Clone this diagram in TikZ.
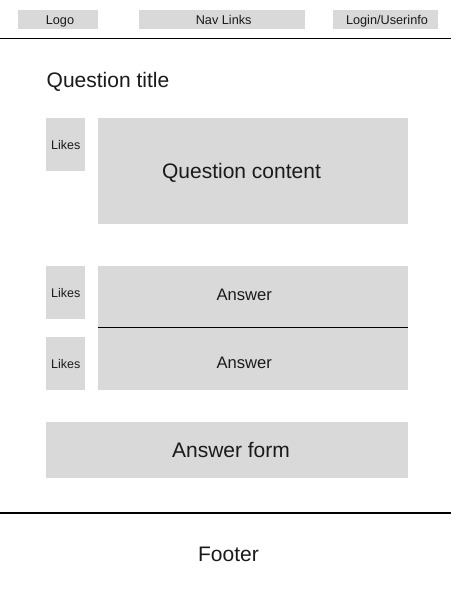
\documentclass[tikz,border=0pt]{standalone}
\usepackage{fontspec}
\setmainfont{Liberation Sans}
\definecolor{boxgray}{HTML}{D9D9D9}
\definecolor{ink}{HTML}{1A1A1A}
\begin{document}
\begin{tikzpicture}[x=1pt,y=-1pt,
  block/.style={fill=boxgray,draw=none,inner sep=0pt},
  rule/.style={draw=black,line width=1.1pt},
  label/.style={text=ink,inner sep=0pt,anchor=base},
  small/.style={font=\fontsize{12.7}{15}\selectfont},
  likes/.style={font=\fontsize{12.5}{15}\selectfont},
  medium/.style={font=\fontsize{16.6}{20}\selectfont},
  large/.style={font=\fontsize{21}{25}\selectfont}]
\useasboundingbox[fill=white] (0,0) rectangle (451,600);

% header bar
\node[block,minimum width=80pt,minimum height=19pt] (logo) at (58,19.5) {};
\node[block,minimum width=166pt,minimum height=19pt] (nav) at (222,19.5) {};
\node[block,minimum width=105pt,minimum height=19pt] (login) at (385.5,19.5) {};
\node[label,small] (logot) at (60,24.3) {Logo};
\node[label,small] (navt) at (223.7,24.3) {Nav Links};
\node[label,small] (logint) at (387,24.3) {Login/Userinfo};
\coordinate (hl) at (0,38.5);
\coordinate (hr) at (451,38.5);
\draw[rule] (hl) -- (hr);

% question
\node[label,large,anchor=base west] (qtitle) at (46.5,87) {Question title};
\node[block,minimum width=39pt,minimum height=53pt] (qlikes) at (65.5,144.5) {};
\node[label,likes] (qlikest) at (65.8,149) {Likes};
\node[block,minimum width=310pt,minimum height=106pt] (qbody) at (253,171) {};
\node[label,large] (qbodyt) at (241.5,178) {Question content};

% answers
\node[block,minimum width=39pt,minimum height=53pt] (alikes1) at (65.5,292.5) {};
\node[label,likes] (alikes1t) at (65.8,297.3) {Likes};
\node[block,minimum width=310pt,minimum height=61pt] (ans1) at (253,296.5) {};
\node[label,medium] (ans1t) at (244.2,300) {Answer};
\node[block,minimum width=39pt,minimum height=53pt] (alikes2) at (65.5,363.5) {};
\node[label,likes] (alikes2t) at (65.8,368.3) {Likes};
\node[block,minimum width=310pt,minimum height=63pt] (ans2) at (253,358.5) {};
\node[label,medium] (ans2t) at (244.2,368.3) {Answer};
\draw[draw=black,line width=1pt] (ans1.south west) -- (ans1.south east);

% answer form
\node[block,minimum width=362pt,minimum height=56pt] (aform) at (227,450) {};
\node[label,large] (aformt) at (231,457) {Answer form};

% footer
\coordinate (fl) at (0,513);
\coordinate (fr) at (451,513);
\draw[rule] (fl) -- (fr);
\node[label,large] (footer) at (228.5,561.3) {Footer};
\end{tikzpicture}
\end{document}
